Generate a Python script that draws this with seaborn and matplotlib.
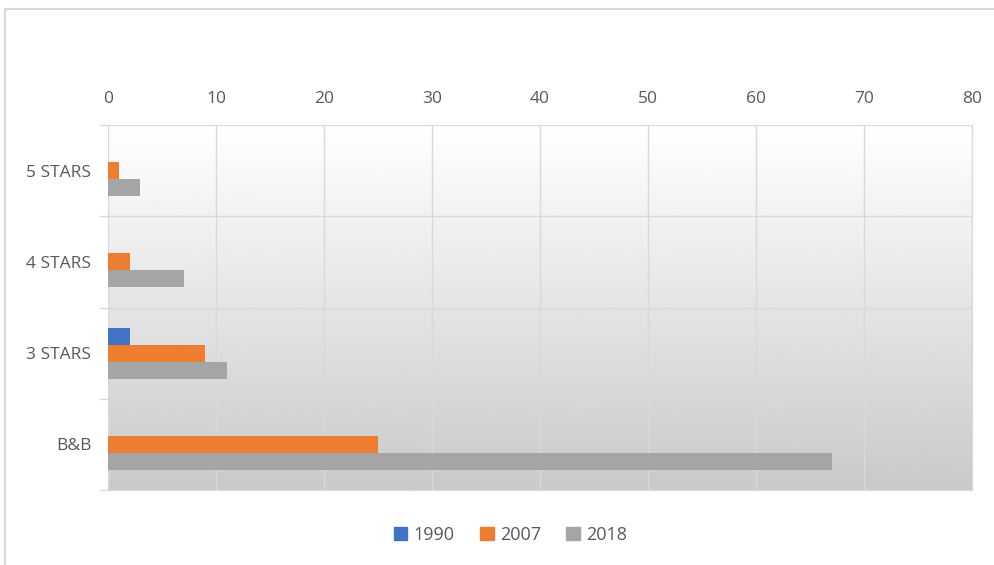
import numpy as np
import pandas as pd
import seaborn as sns
import matplotlib.pyplot as plt
from matplotlib.lines import Line2D
from matplotlib.patches import Patch

# Data
categories = ["5 STARS", "4 STARS", "3 STARS", "B&B"]
years = ["1990", "2007", "2018"]
vals_1990 = [0, 0, 2, 0]
vals_2007 = [1, 2, 9, 25]
vals_2018 = [3, 7, 11, 67]
colours = ["#4472C4", "#ED7D31", "#A5A5A5"]

df = pd.DataFrame({
    "category": categories * 3,
    "year": [y for y in years for _ in categories],
    "value": vals_1990 + vals_2007 + vals_2018,
})

sns.set_style("white")
plt.rcParams["font.family"] = ["Open Sans", "DejaVu Sans"]
text_col = "#595959"
grid_col = "#D9D9D9"

fig = plt.figure(figsize=(9.95, 5.65), dpi=100)
ax = fig.add_axes([108 / 995, 1 - 490 / 565, 864 / 995, 365 / 565])

# gradient background (white at top to grey at bottom)
grad = np.linspace(1.0, 0.79, 256).reshape(-1, 1)
ax.imshow(grad, extent=[0, 1, 0, 1], transform=ax.transAxes, cmap="gray",
          vmin=0, vmax=1, aspect="auto", zorder=0)

sns.barplot(data=df, y="category", x="value", hue="year", order=categories,
            hue_order=years, palette=colours, orient="h", width=0.56,
            saturation=1, ax=ax, legend=False, linewidth=0, zorder=3)

ax.set_xlim(0, 80)
ax.set_ylim(3.5, -0.5)
ax.set_xticks(np.arange(0, 81, 10))
ax.xaxis.tick_top()
ax.tick_params(axis="x", length=0, pad=13, labelsize=12.5, labelcolor=text_col)
ax.tick_params(axis="y", length=0, pad=12, labelsize=12.5, labelcolor=text_col)
ax.set_xlabel("")
ax.set_ylabel("")

# vertical gridlines
for v in np.arange(0, 81, 10):
    ax.axvline(v, color=grid_col, lw=1, zorder=1)
# category separators plus small outward ticks on the left
for b in np.arange(-0.5, 4, 1.0):
    ax.axhline(b, color=grid_col, lw=1, zorder=1)
    ax.plot([-0.75, 0], [b, b], color=grid_col, lw=1, clip_on=False, zorder=1)

for s in ax.spines.values():
    s.set_visible(False)
ax.spines["right"].set_visible(True)
ax.spines["right"].set_color(grid_col)
ax.spines["bottom"].set_visible(True)
ax.spines["bottom"].set_color(grid_col)

handles = [Patch(facecolor=c, edgecolor=c) for c in colours]
fig.legend(handles, years, loc="center", bbox_to_anchor=(0.513, 0.053), ncol=3,
           frameon=False, handlelength=0.75, handleheight=0.75, handletextpad=0.35,
           columnspacing=1.4, labelcolor=text_col, fontsize=13)

# outer chart border (left and top edges visible)
fig.add_artist(Line2D([5 / 995, 5 / 995], [0, 1 - 9 / 565], color="#D9D9D9", lw=1.5))
fig.add_artist(Line2D([5 / 995, 1], [1 - 9 / 565, 1 - 9 / 565], color="#D9D9D9", lw=1.5))

fig.savefig("out.png", dpi=100)
